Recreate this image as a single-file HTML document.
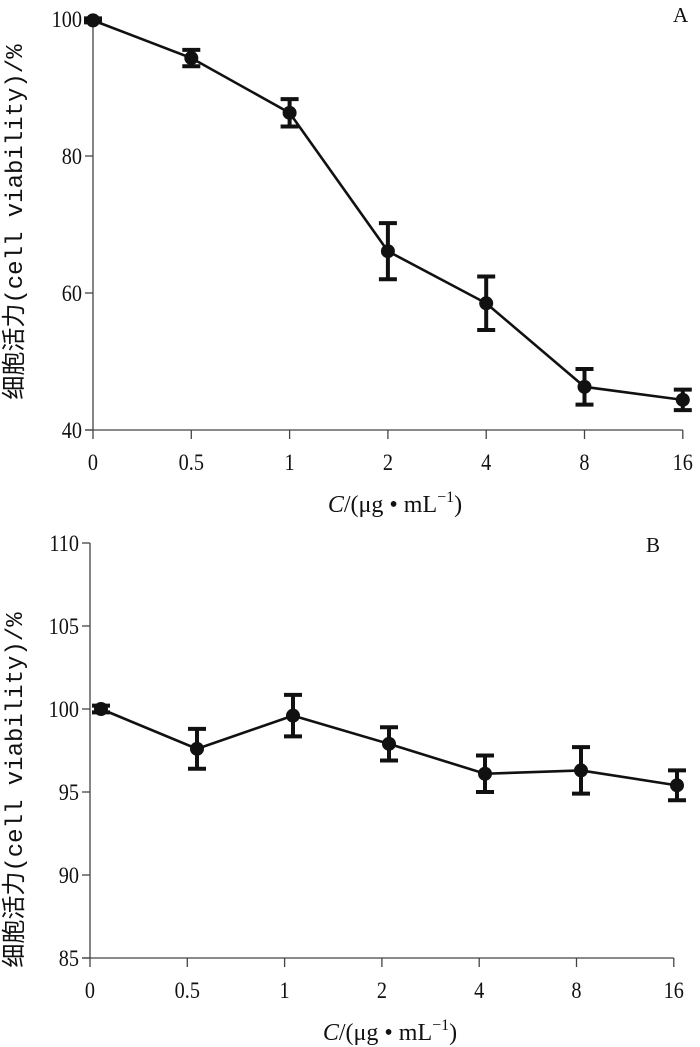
<!DOCTYPE html>
<html><head><meta charset="utf-8">
<style>
html,body{margin:0;padding:0;background:#fff;}
svg{display:block;font-family:"Liberation Serif","Noto Serif CJK SC",serif;}
</style></head>
<body>
<svg id="fig" width="700" height="1047" viewBox="0 0 700 1047" xmlns="http://www.w3.org/2000/svg"></svg>
<script>
const categories = ["0","0.5","1","2","4","8","16"];
const seriesA = [99.8, 94.3, 86.3, 66.1, 58.5, 46.3, 44.4];
const errorA = [0.3, 1.2, 2.0, 4.1, 3.9, 2.6, 1.5];
const ticksA = [40, 60, 80, 100];
const seriesB = [100.0, 97.6, 99.6, 97.9, 96.1, 96.3, 95.4];
const errorB = [0.2, 1.2, 1.25, 1.0, 1.1, 1.4, 0.9];
const ticksB = [85, 90, 95, 100, 105, 110];

const NS = "http://www.w3.org/2000/svg";
const svg = document.getElementById('fig');
function mk(tag, attrs, parent){
  const e = document.createElementNS(NS, tag);
  for (const k in attrs) e.setAttribute(k, attrs[k]);
  (parent||svg).appendChild(e);
  return e;
}

function drawPanel(cfg){
  const g = mk('g', {});
  
  
  const y = v => cfg.y0 - (v - cfg.vmin) * (cfg.y0 - cfg.y1) / (cfg.vmax - cfg.vmin);
  const xt = i => cfg.ax + cfg.tickStep * i;
  const xp = i => cfg.px0 + cfg.pStep * i;
  const ya = mk('line', {x1:cfg.ax, y1:y(cfg.vmax), x2:cfg.ax, y2:cfg.y0, stroke:'#444', 'stroke-width':1.3}, g);
  
  
  const xa = mk('line', {x1:cfg.ax-8, y1:cfg.y0, x2:xt(6), y2:cfg.y0, stroke:'#444', 'stroke-width':1.3}, g);
  
  
  cfg.ticks.forEach(t => {
    mk('line', {x1:cfg.ax-8, y1:y(t), x2:cfg.ax, y2:y(t), stroke:'#444', 'stroke-width':1.3}, g);
    const tx = mk('text', {x:cfg.ax-11, y:y(t)+8, 'text-anchor':'end', 'font-size':23, fill:'#111', transform:`translate(${(cfg.ax-11)*0.12},0) scale(0.88,1)`}, g);
    
    
    tx.textContent = t;
  });
  categories.forEach((c, i) => {
    mk('line', {x1:xt(i), y1:cfg.y0, x2:xt(i), y2:cfg.y0+9, stroke:'#444', 'stroke-width':1.3}, g);
    const tx = mk('text', {x:xt(i), y:cfg.y0+40, 'text-anchor':'middle', 'font-size':23, fill:'#111', transform:`translate(${xt(i)*0.12},0) scale(0.88,1)`}, g);
    
    
    tx.textContent = c;
  });
  const pts = cfg.data.map((v, i) => xp(i) + ',' + y(v)).join(' ');
  const pl = mk('polyline', {points:pts, fill:'none', stroke:'#111', 'stroke-width':2.6}, g);
  
  
  cfg.data.forEach((v, i) => {
    const x = xp(i), e = cfg.err[i];
    const eb = mk('path', {d:`M${x},${y(v+e)}V${y(v-e)}M${x-9},${y(v+e)}H${x+9}M${x-9},${y(v-e)}H${x+9}`, stroke:'#111', 'stroke-width':4, fill:'none'}, g);
    
    
    const p = mk('circle', {cx:x, cy:y(v), r:7, fill:'#111'}, g);
    
    
  });
  const yt = mk('text', {transform:`translate(${cfg.titleX},${cfg.titleY}) rotate(-90)`, 'text-anchor':'middle', 'font-size':24, fill:'#111'}, g);
  
  
  yt.innerHTML = '<tspan font-family="Noto Sans CJK SC, sans-serif">细胞活力</tspan><tspan font-family="Liberation Mono, monospace" font-size="24">(cell viability)/%</tspan>';
  const xtl = mk('text', {x:cfg.xTitleX, y:cfg.y0+82, 'text-anchor':'middle', 'font-size':24, fill:'#111'}, g);
  
  
  xtl.innerHTML = '<tspan font-style="italic">C</tspan>/(μg • mL<tspan dy="-10" font-size="16">−1</tspan><tspan dy="10">)</tspan>';
  const pn = mk('text', {x:cfg.labelX, y:cfg.labelY, 'font-size':21, fill:'#111'}, g);
  
  
  pn.textContent = cfg.label;
}

drawPanel({name:'panel-a', ax:93, tickStep:98.3, px0:93, pStep:98.3, y0:430, y1:19, vmin:40, vmax:100,
  ticks:ticksA, data:seriesA, err:errorA, titleX:22, titleY:222, xTitleX:395, label:'A', labelX:673, labelY:22});
drawPanel({name:'panel-b', ax:90, tickStep:97.3, px0:101, pStep:96, y0:958, y1:543, vmin:85, vmax:110,
  ticks:ticksB, data:seriesB, err:errorB, titleX:22, titleY:790, xTitleX:390, label:'B', labelX:646, labelY:552});
</script>
</body></html>
